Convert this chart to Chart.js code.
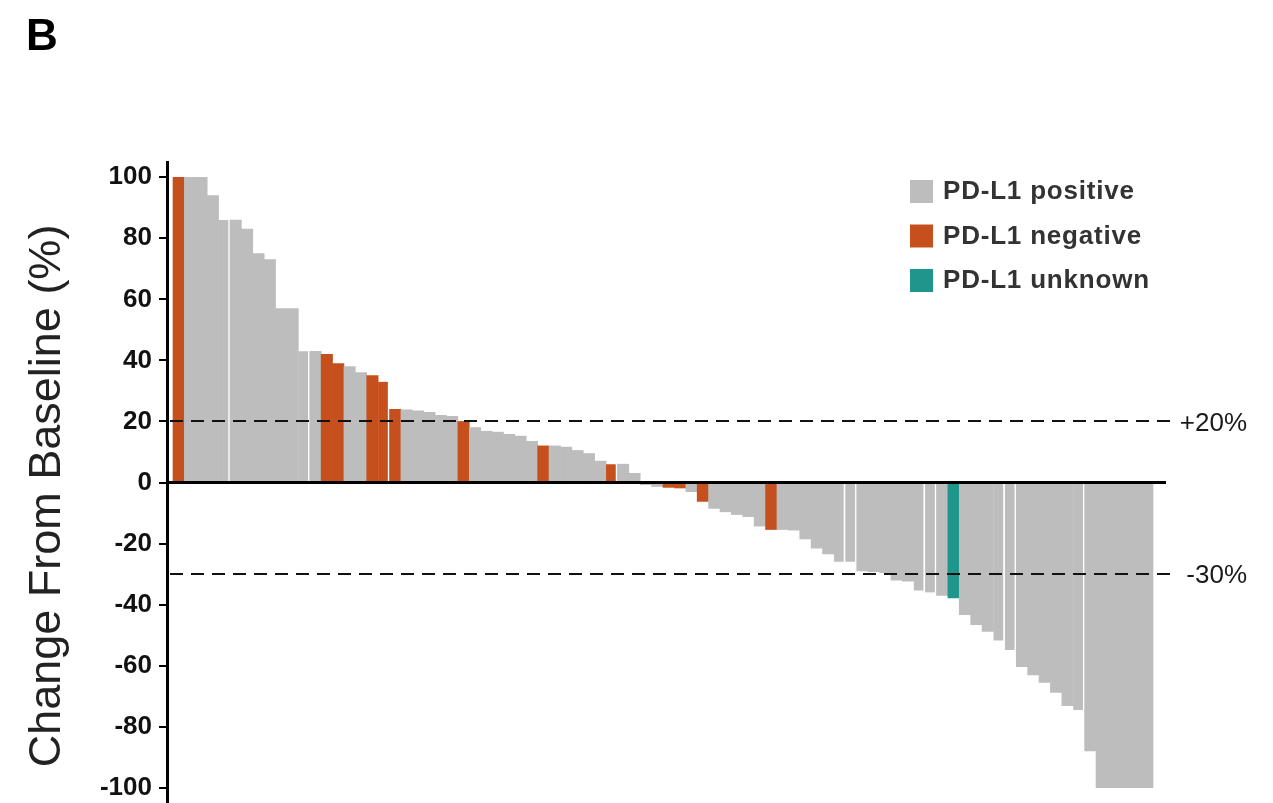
<!DOCTYPE html>
<html>
<head>
<meta charset="utf-8">
<script src="https://cdn.jsdelivr.net/npm/chart.js@4/dist/chart.umd.min.js"></script>
<style>
  html, body { margin: 0; padding: 0; background: #fff; }
  #wrap { width: 1273px; height: 803px; position: relative; }
  canvas { display: block; }
</style>
</head>
<body>
<div id="wrap"><canvas id="waterfall" width="1273" height="803"></canvas></div>
<script>
// Best percentage change in target lesions, one bar per patient, sorted.
const changeFromBaseline = [
  100, 100, 100, 94, 86, 86, 83, 75, 73, 57,
  57, 43, 43, 42, 39, 38, 36, 35, 33, 24,
  23.8, 23.5, 23, 22, 21.7, 20, 18, 16.8, 16.5, 15.8,
  15.2, 13.5, 12, 12, 11.6, 10.5, 9.5, 7, 6, 6,
  3, -0.7, -1.3, -1.6, -1.8, -3, -6.2, -8.5, -9.6, -10.5,
  -11.2, -14.3, -15.4, -15.4, -15.6, -18.5, -21.5, -23.4, -26, -26,
  -29, -29.2, -29.5, -32, -32.3, -35.4, -36, -37, -37.8, -43.3,
  -46.6, -48.8, -51.8, -54.9, -60.3, -63, -65.5, -68.8, -73.1, -74.5,
  -87.9, -100, -100, -100, -100, -100
];

// PD-L1 status per patient: P = positive, N = negative, U = unknown
const pdl1Status = [
  'N','P','P','P','P','P','P','P','P','P',
  'P','P','P','N','N','P','P','N','N','N',
  'P','P','P','P','P','N','P','P','P','P',
  'P','P','N','P','P','P','P','P','N','P',
  'P','P','P','N','N','P','N','P','P','P',
  'P','P','N','P','P','P','P','P','P','P',
  'P','P','P','P','P','P','P','P','U','P',
  'P','P','P','P','P','P','P','P','P','P',
  'P','P','P','P','P','P'
];

const patients = changeFromBaseline.map((_, i) => i + 1);

const yTicks = [100, 80, 60, 40, 20, 0, -20, -40, -60, -80, -100];

const thresholdValues = [20, -30];
const thresholdLabels = ['+20%', '-30%'];

const legendKeys = ['P', 'N', 'U'];
const legendLabels = ['PD-L1 positive', 'PD-L1 negative', 'PD-L1 unknown'];

const statusColors = { P: '#bdbdbd', N: '#c5501e', U: '#1e968c' };

// thin white divider on the right side of these bars
const dividerAfter = new Set([4, 11, 18, 38, 58, 59, 65, 66, 72, 73, 79]);

const FONT = "'Liberation Sans', Arial, Helvetica, sans-serif";

const decorPlugin = {
  id: 'waterfallDecor',
  afterDatasetsDraw(chart) {
    const { ctx, chartArea, scales } = chart;
    const y = scales.y;
    ctx.save();
    // threshold lines
    ctx.strokeStyle = '#111';
    ctx.lineWidth = 2;
    ctx.setLineDash([13, 8]);
    thresholdValues.forEach(v => {
      const py = Math.round(y.getPixelForValue(v));
      ctx.beginPath();
      ctx.moveTo(chartArea.left + 3, py);
      ctx.lineTo(chartArea.right + 8, py);
      ctx.stroke();
    });
    ctx.setLineDash([]);
    // zero line
    const p0 = y.getPixelForValue(0);
    ctx.strokeStyle = '#000';
    ctx.lineWidth = 3;
    ctx.beginPath();
    ctx.moveTo(chartArea.left, p0);
    ctx.lineTo(chartArea.right, p0);
    ctx.stroke();
    // threshold labels
    ctx.fillStyle = '#1a1a1a';
    ctx.font = `26px ${FONT}`;
    ctx.textAlign = 'right';
    ctx.textBaseline = 'middle';
    thresholdValues.forEach((v, i) => {
      ctx.fillText(thresholdLabels[i], chartArea.right + 81, y.getPixelForValue(v) + 2);
    });
    ctx.restore();
  },
  afterDraw(chart) {
    const { ctx } = chart;
    ctx.save();
    // panel letter
    ctx.fillStyle = '#000';
    ctx.font = `bold 44px ${FONT}`;
    ctx.textAlign = 'left';
    ctx.textBaseline = 'alphabetic';
    ctx.fillText('B', 26, 50);
    // axis title
    ctx.translate(48, 496);
    ctx.rotate(-Math.PI / 2);
    ctx.font = `45px ${FONT}`;
    ctx.fillStyle = '#222';
    ctx.textAlign = 'center';
    ctx.textBaseline = 'middle';
    ctx.fillText('Change From Baseline (%)', 0, 0);
    ctx.restore();
    // legend
    ctx.save();
    ctx.font = `bold 26px ${FONT}`;
    if ('letterSpacing' in ctx) ctx.letterSpacing = '0.8px';
    ctx.textAlign = 'left';
    ctx.textBaseline = 'middle';
    legendKeys.forEach((k, i) => {
      const cy = 191 + i * 44.5;
      ctx.fillStyle = statusColors[k];
      ctx.fillRect(910, cy - 11, 23, 23);
      ctx.fillStyle = '#333';
      ctx.fillText(legendLabels[i], 943, cy + 1);
    });
    ctx.restore();
  }
};

new Chart(document.getElementById('waterfall'), {
  type: 'bar',
  data: {
    datasets: [{
      label: 'Change from baseline',
      data: changeFromBaseline.map((v, i) => ({ x: i, y: v })),
      backgroundColor: pdl1Status.map(s => statusColors[s]),
      borderColor: '#ffffff',
      borderWidth: ctx => dividerAfter.has(ctx.dataIndex) ? { top: 0, right: 2, bottom: 0, left: 0 } : 0,
      borderSkipped: false,
      barPercentage: 1,
      categoryPercentage: 1
    }]
  },
  options: {
    responsive: false,
    animation: false,
    devicePixelRatio: 1,
    layout: { padding: { top: 162, right: 107, bottom: 0, left: 0 } },
    plugins: { legend: { display: false }, tooltip: { enabled: false } },
    scales: {
      x: {
        type: 'linear', display: false, offset: false,
        grid: { offset: false },
        min: -1.027, max: 86.64
      },
      y: {
        min: -105,
        max: 105,
        afterBuildTicks: scale => { scale.ticks = yTicks.map(v => ({ value: v })); },
        afterFit: scale => {
          scale.width = 167;
          scale.paddingTop = 0;
          scale.paddingBottom = 0;
        },
        ticks: {
          font: { family: FONT, size: 26, weight: 'bold' },
          color: '#111',
          padding: 7
        },
        grid: {
          drawOnChartArea: false,
          drawTicks: true,
          tickLength: 8,
          color: '#000',
          lineWidth: 2
        },
        border: { display: true, color: '#000', width: 3 }
      }
    }
  },
  plugins: [decorPlugin]
});
</script>
</body>
</html>
